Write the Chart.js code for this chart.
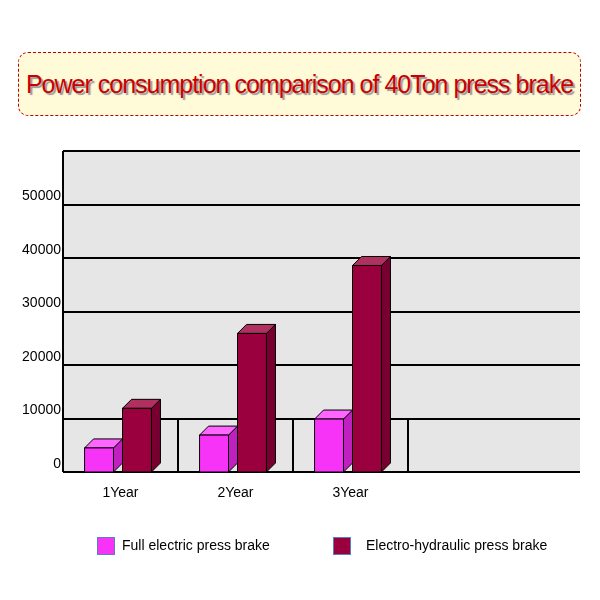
<!DOCTYPE html>
<html><head><meta charset="utf-8">
<script src="https://cdn.jsdelivr.net/npm/chart.js@4/dist/chart.umd.min.js"></script>
<style>
body{margin:0;background:#fff;font-family:Arial,"Liberation Sans",sans-serif;}
#wrap{position:relative;width:600px;height:600px;}
canvas{position:absolute;left:0;top:0;}
#title{position:absolute;left:18px;top:52px;width:561px;height:62px;border:1px dashed #c00000;border-radius:10px;background:#fffad8;
 color:#cc0000;font-size:25px;letter-spacing:-1px;text-align:center;line-height:62px;text-shadow:2px 2px 1px #999;}
.lg{position:absolute;top:536px;font-size:14px;color:#000;line-height:18px;}
.sw{display:inline-block;width:18px;height:18px;border:1px solid #5a7fc0;vertical-align:middle;margin-right:7px;box-sizing:border-box;}
</style></head><body>
<div id="wrap">
<div id="title">Power consumption comparison of 40Ton press brake</div>
<canvas id="c" width="600" height="600"></canvas>
<div class="lg" style="left:97px"><span class="sw" style="background:#f633f6"></span>Full electric press brake</div>
<div class="lg" style="left:333px"><span class="sw" style="background:#99003d;margin-right:15px"></span>Electro-hydraulic press brake</div>
</div>
<script>
const categories = ['1Year','2Year','3Year',''];
const fullElectric = [4500, 6900, 9900, null];
const electroHydraulic = [11900, 25900, 38600, null];
const yTicks = [0,10000,20000,30000,40000,50000];
const seriesNames = ['Full electric press brake','Electro-hydraulic press brake'];
const faceColors = [['#f633f6','#ff66ff','#c020c0'],['#99003d','#b03060','#780030']];

const deco = {
  id:'deco',
  beforeDatasetsDraw(chart){
    const {ctx, chartArea:a, scales:{x,y}} = chart;
    const right = 580;
    ctx.save();
    ctx.fillStyle='#e6e6e6';
    ctx.fillRect(a.left,a.top,right-a.left,a.bottom-a.top);
    ctx.strokeStyle='#000';ctx.lineWidth=2;
    yTicks.forEach(v=>{const py=Math.round(y.getPixelForValue(v));
      ctx.beginPath();ctx.moveTo(a.left,py);ctx.lineTo(right,py);ctx.stroke();});
    ctx.beginPath();ctx.moveTo(a.left,a.top);ctx.lineTo(right,a.top);ctx.stroke();
    ctx.beginPath();ctx.moveTo(a.left,a.top);ctx.lineTo(a.left,a.bottom);ctx.stroke();
    const y0=y.getPixelForValue(0), y1=y.getPixelForValue(10000);
    for(let i=1;i<categories.length;i++){
      const px=Math.round((x.getPixelForValue(i-1)+x.getPixelForValue(i))/2);
      ctx.beginPath();ctx.moveTo(px,y0);ctx.lineTo(px,y1);ctx.stroke();
    }
    ctx.fillStyle='#000';ctx.font='14px Arial, "Liberation Sans"';
    ctx.textAlign='right';ctx.textBaseline='bottom';
    yTicks.forEach(v=>ctx.fillText(String(v),61,y.getPixelForValue(v)-1));
    ctx.textAlign='center';ctx.textBaseline='middle';
    categories.forEach((c,i)=>ctx.fillText(c,x.getPixelForValue(i),493));
    ctx.restore();
  },
  afterDatasetsDraw(chart){
    const ctx=chart.ctx, d=9;
    ctx.save();ctx.strokeStyle='#000';ctx.lineWidth=1;ctx.lineJoin='round';
    chart.data.datasets.forEach((ds,di)=>{
      const cols=faceColors[di];
      chart.getDatasetMeta(di).data.forEach((el,i)=>{
        if(ds.data[i]==null) return;
        const l=el.x-el.width/2+2, w=el.width-9, t=el.y, b=el.base;
        const poly=(pts,f)=>{ctx.beginPath();ctx.moveTo(pts[0][0],pts[0][1]);pts.slice(1).forEach(p=>ctx.lineTo(p[0],p[1]));ctx.closePath();ctx.fillStyle=f;ctx.fill();ctx.stroke();};
        poly([[l+w,t],[l+w+d,t-d],[l+w+d,b-d],[l+w,b]],cols[2]);
        poly([[l,t],[l+d,t-d],[l+w+d,t-d],[l+w,t]],cols[1]);
        poly([[l,t],[l+w,t],[l+w,b],[l,b]],cols[0]);
      });
    });
    ctx.restore();
  }
};

new Chart(document.getElementById('c'),{
  type:'bar',
  data:{labels:categories,datasets:[
    {label:seriesNames[0],data:fullElectric,backgroundColor:'rgba(0,0,0,0)'},
    {label:seriesNames[1],data:electroHydraulic,backgroundColor:'rgba(0,0,0,0)'}]},
  options:{responsive:false,animation:false,events:[],
    layout:{padding:{left:63,right:77,top:151,bottom:128}},
    categoryPercentage:0.66,barPercentage:1,
    plugins:{legend:{display:false},title:{display:false},tooltip:{enabled:false}},
    scales:{x:{display:false},y:{display:false,min:0,max:60000}}},
  plugins:[deco]
});
</script></body></html>
